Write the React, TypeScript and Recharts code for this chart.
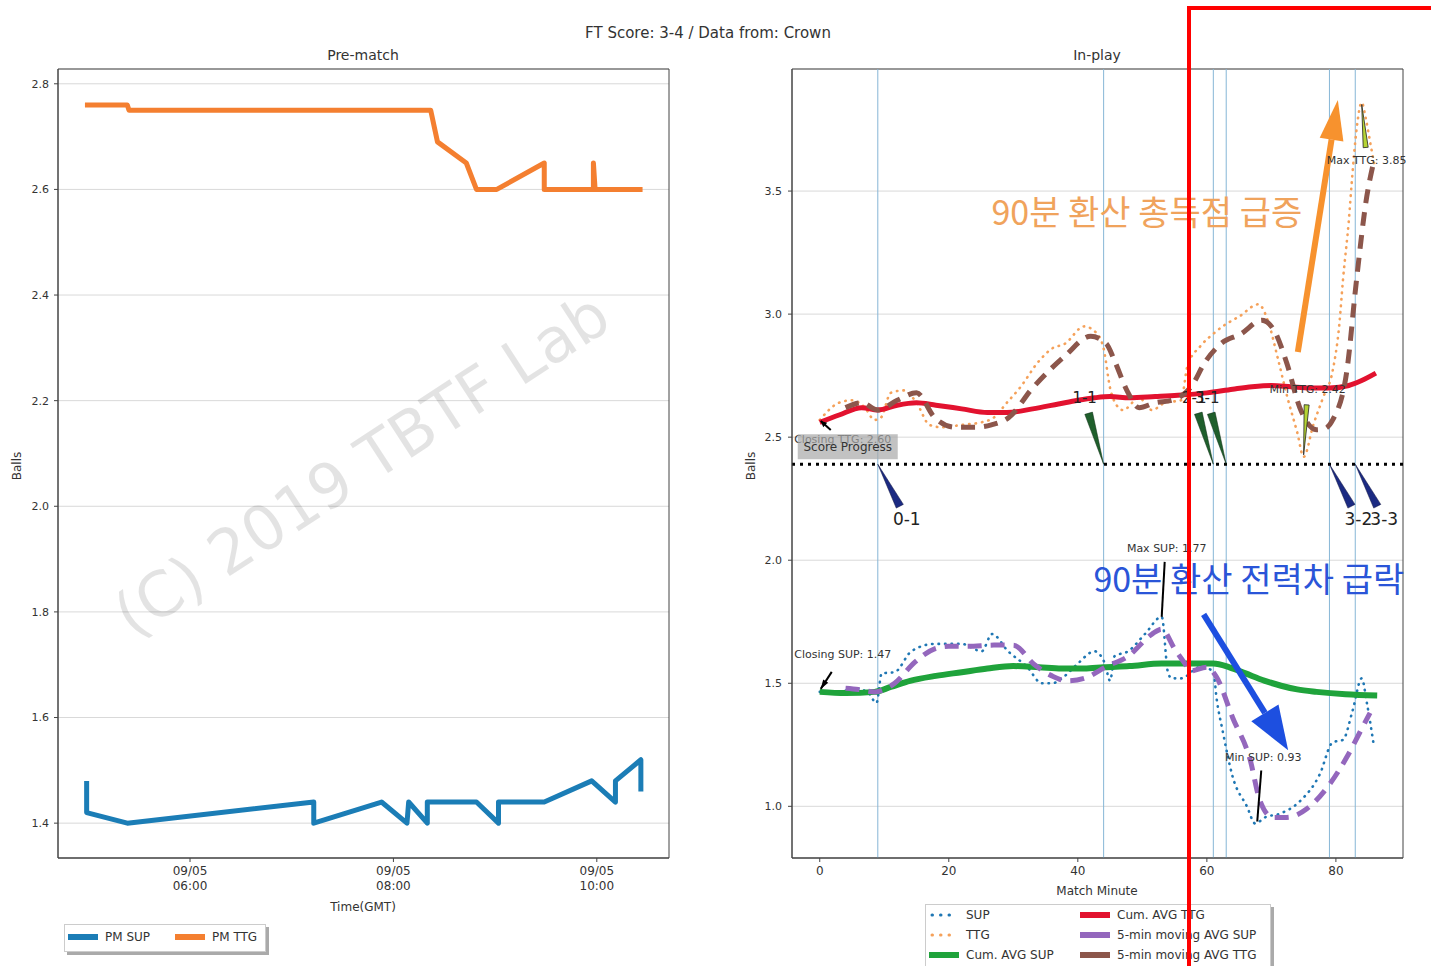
import React from 'react';
import { LineChart, Line, XAxis, YAxis, CartesianGrid, ReferenceLine, ReferenceDot, ReferenceArea } from 'recharts';

const FONT = '"DejaVu Sans", Verdana, sans-serif';
const KFONT = '"Noto Sans CJK KR", "Noto Sans CJK SC", sans-serif';
const TXT = '#333';

// ---------------- Pre-match data ----------------
const pmDate = '09/05';
const pmTimeTicks = ['06:00', '08:00', '10:00'];
const pmYTicks = [1.4, 1.6, 1.8, 2.0, 2.2, 2.4, 2.6, 2.8];
const pmSupTimes = ['04:59', '04:59', '05:23', '07:13', '07:13', '07:53', '08:08', '08:09', '08:20', '08:20', '08:49', '09:02', '09:02', '09:29', '09:57', '10:11', '10:11', '10:26', '10:26'];
const pmSupValues = [1.48, 1.42, 1.40, 1.44, 1.40, 1.44, 1.40, 1.44, 1.40, 1.44, 1.44, 1.40, 1.44, 1.44, 1.48, 1.44, 1.48, 1.52, 1.46];
const pmTtgTimes = ['04:58', '05:23', '05:24', '08:22', '08:26', '08:43', '08:49', '09:01', '09:29', '09:29', '09:58', '09:58', '09:59', '10:27'];
const pmTtgValues = [2.76, 2.76, 2.75, 2.75, 2.69, 2.65, 2.60, 2.60, 2.65, 2.60, 2.60, 2.65, 2.60, 2.60];

// ---------------- In-play data ----------------
const ipXTicks = [0, 20, 40, 60, 80];
const ipYTicks = [1.0, 1.5, 2.0, 2.5, 3.0, 3.5];

const supMinutes = [0, 2, 4, 5, 7.4, 8.8, 9.6, 11.6, 14.2, 17.8, 22, 25.1, 26.7, 29.2, 32.2, 34.4, 36, 38, 40, 42.6, 44.2, 45, 45.7, 47.8, 50.4, 53, 54, 54.6, 56, 58.9, 61, 61.5, 62.5, 64, 66.2, 67.5, 69, 71.3, 74.4, 77.5, 79.5, 81.1, 82.6, 84, 84.8, 85.8];
const supValues = [1.465, 1.46, 1.47, 1.48, 1.465, 1.42, 1.54, 1.545, 1.63, 1.66, 1.66, 1.63, 1.70, 1.63, 1.565, 1.50, 1.50, 1.53, 1.58, 1.63, 1.58, 1.51, 1.61, 1.63, 1.70, 1.77, 1.54, 1.52, 1.52, 1.565, 1.55, 1.44, 1.30, 1.12, 1.00, 0.93, 0.955, 0.97, 1.02, 1.13, 1.26, 1.27, 1.39, 1.52, 1.42, 1.26];

const ttgMinutes = [0, 3, 5, 7, 8.5, 9.5, 11, 13, 15, 17, 19, 22, 25, 27, 29, 31, 34, 36, 38, 41, 43, 44, 45, 46, 47, 49.5, 51.5, 53.5, 56, 57, 59, 61, 63, 65, 68, 69.5, 71, 72.5, 74, 75, 76.5, 78, 79.5, 80.5, 81.1, 82, 82.5, 83.2, 84, 84.6, 85.3, 86];
const ttgValues = [2.57, 2.64, 2.65, 2.62, 2.57, 2.58, 2.68, 2.69, 2.64, 2.55, 2.54, 2.55, 2.56, 2.58, 2.64, 2.70, 2.81, 2.86, 2.88, 2.95, 2.92, 2.86, 2.70, 2.63, 2.61, 2.66, 2.61, 2.64, 2.65, 2.79, 2.87, 2.92, 2.96, 2.99, 3.04, 2.97, 2.82, 2.66, 2.52, 2.42, 2.55, 2.66, 2.77, 2.95, 3.14, 3.38, 3.55, 3.75, 3.86, 3.80, 3.70, 3.60];

const cumSupMinutes = [0, 4, 8.5, 11, 14, 18, 22, 26, 30, 34, 37.5, 41, 44, 48, 53, 56, 61, 63.5, 66, 69, 71.5, 74, 77, 81.5, 86.4];
const cumSupValues = [1.465, 1.46, 1.465, 1.485, 1.51, 1.53, 1.545, 1.56, 1.57, 1.565, 1.56, 1.56, 1.565, 1.57, 1.58, 1.58, 1.58, 1.565, 1.54, 1.51, 1.49, 1.475, 1.465, 1.455, 1.45];

const cumTtgMinutes = [0, 3, 6.5, 9, 12, 15, 18, 22, 26, 29, 33, 37, 40, 42.6, 45, 48, 52, 55.5, 60, 64, 67, 70, 73, 76, 79, 82, 84, 86.2];
const cumTtgValues = [2.56, 2.59, 2.62, 2.61, 2.63, 2.64, 2.63, 2.615, 2.60, 2.60, 2.615, 2.635, 2.65, 2.66, 2.665, 2.66, 2.665, 2.67, 2.68, 2.695, 2.705, 2.71, 2.705, 2.70, 2.70, 2.71, 2.73, 2.76];

const maSupMinutes = [4, 6, 8.5, 11.6, 14.7, 17.8, 20, 23, 27, 30, 33.3, 36, 38.4, 41, 44.6, 47.8, 51.5, 53, 55, 56.6, 57.4, 60, 61.5, 64, 66.7, 68.2, 70.2, 72.4, 75.5, 78.6, 81.7, 83.7, 85.3];
const maSupValues = [1.48, 1.475, 1.465, 1.50, 1.585, 1.64, 1.65, 1.65, 1.655, 1.655, 1.575, 1.53, 1.51, 1.52, 1.57, 1.61, 1.70, 1.72, 1.64, 1.58, 1.55, 1.565, 1.525, 1.36, 1.19, 1.025, 0.955, 0.955, 0.99, 1.075, 1.20, 1.30, 1.38];

const maTtgMinutes = [4, 6.5, 9, 12, 15, 17.8, 21, 24, 26.6, 29.3, 33, 38, 42, 44.4, 45.7, 47.6, 49.5, 52, 54.6, 57.7, 59.6, 62.2, 65.3, 68.5, 70.4, 72.4, 74.4, 77, 78.3, 79.5, 81.7, 83.2, 84.8, 85.7];
const maTtgValues = [2.62, 2.64, 2.61, 2.65, 2.68, 2.58, 2.54, 2.54, 2.55, 2.58, 2.70, 2.83, 2.91, 2.88, 2.81, 2.69, 2.62, 2.64, 2.65, 2.71, 2.80, 2.88, 2.92, 2.975, 2.935, 2.80, 2.62, 2.53, 2.535, 2.57, 2.77, 3.14, 3.48, 3.60];

const goalMinutes = [9, 44, 61, 63, 79, 83];
const goalScores = ['0-1', '1-1', '2-1', '3-1', '3-2', '3-3'];
const scoreLevel = 2.39;

const statLabels = ['Closing TTG: 2.60', 'Closing SUP: 1.47', 'Max SUP: 1.77', 'Min SUP: 0.93', 'Min TTG: 2.42', 'Max TTG: 3.85'];
const statMinutes = [0, 0, 53, 67.5, 75, 84];
const statValues = [2.57, 1.465, 1.77, 0.93, 2.42, 3.86];

const calloutTexts = ['90분 환산 총득점 급증', '90분 환산 전력차 급락'];
const calloutMinutes = [50.7, 66.5];
const calloutValues = [3.423, 1.931];
const arrowFromMinutes = [74.1, 59.5];
const arrowFromValues = [2.846, 1.78];
const arrowToMinutes = [80.3, 72.6];
const arrowToValues = [3.87, 1.228];

// ---------------- helpers ----------------
const toMin = (s: string) => {
  const [h, m] = s.split(':').map(Number);
  return h * 60 + m;
};
const fmtHM = (v: number) => `${String(Math.floor(v / 60)).padStart(2, '0')}:${String(Math.round(v % 60)).padStart(2, '0')}`;
const series = (xs: number[], ys: number[]) => xs.map((m, i) => ({ m, v: ys[i] }));

const pmSupData = pmSupTimes.map((t, i) => ({ t: toMin(t), v: pmSupValues[i] }));
const pmTtgData = pmTtgTimes.map((t, i) => ({ t: toMin(t), v: pmTtgValues[i] }));

const PM_X_DOMAIN: [number, number] = [282.1, 642.6];
const PM_Y_DOMAIN: [number, number] = [1.334, 2.828];
const IP_X_DOMAIN: [number, number] = [-4.3, 90.4];
const IP_Y_DOMAIN: [number, number] = [0.79, 3.996];

// styles
const C = {
  pmSup: '#1b7db6',
  pmTtg: '#f47f30',
  sup: '#1f77b4',
  ttg: '#f5a15a',
  cumSup: '#1fa33b',
  cumTtg: '#e2122f',
  maSup: '#9467bd',
  maTtg: '#8c564b',
  goalLine: '#86b6d6',
  home: '#1f5f2c',
  away: '#1b2a82',
  yg: '#b5d334',
  orangeText: '#f0a35c',
  blueText: '#2a55d8',
  orangeArrow: '#f7922e',
  blueArrow: '#1d4fe0',
};

// pixel offsets for annotations (like matplotlib "offset points")
const STAT_STYLE = [
  { tx: 23, ty: 20, kind: 'arrow', sx: 11, sy: 10, ex: 1, ey: 1 },
  { tx: 23, ty: -37, kind: 'arrow', sx: 12, sy: -20, ex: 1, ey: -3 },
  { tx: 5, ty: -68, kind: 'line', sx: 3, sy: -55, ex: 0, ey: 0 },
  { tx: 8, ty: -66, kind: 'line', sx: 6, sy: -53, ex: 2, ey: -2 },
  { tx: 4, ty: -67, kind: 'wedge', sx: 3, sy: -52, ex: 0, ey: -2 },
  { tx: 5, ty: 58, kind: 'wedge', sx: 4, sy: 45, ex: 0, ey: 2 },
];

const wedgePoints = (tipX: number, tipY: number, baseX: number, baseY: number, hw: number) => {
  const dx = baseX - tipX;
  const dy = baseY - tipY;
  const L = Math.hypot(dx, dy) || 1;
  const nx = (-dy / L) * hw;
  const ny = (dx / L) * hw;
  return `${tipX},${tipY} ${baseX + nx},${baseY + ny} ${baseX - nx},${baseY - ny}`;
};

const PmTick = (props: any) => {
  const { x, y, payload } = props;
  return (
    <text x={x} y={y} textAnchor="middle" fontSize={12} fill={TXT} fontFamily={FONT}>
      <tspan x={x} dy={11}>{pmDate}</tspan>
      <tspan x={x} dy={15}>{fmtHM(payload.value)}</tspan>
    </text>
  );
};

function PreMatch() {
  return (
    <LineChart width={700} height={966} margin={{ top: 69, right: 31, bottom: 48, left: 0 }}>
      <CartesianGrid vertical={false} stroke="#d9d9d9" />
      <XAxis
        dataKey="t"
        type="number"
        domain={PM_X_DOMAIN}
        allowDataOverflow
        ticks={pmTimeTicks.map(toMin)}
        interval={0}
        height={60}
        tick={<PmTick />}
        tickSize={4}
        stroke="#444"
      />
      <YAxis
        type="number"
        domain={PM_Y_DOMAIN}
        allowDataOverflow
        ticks={pmYTicks}
        interval={0}
        width={58}
        tickSize={4}
        tickMargin={5}
        tick={{ fontSize: 11, fill: TXT, fontFamily: FONT }}
        tickFormatter={(v: number) => v.toFixed(1)}
        stroke="#444"
      />
      <ReferenceArea x1={PM_X_DOMAIN[0]} x2={PM_X_DOMAIN[1]} y1={PM_Y_DOMAIN[0]} y2={PM_Y_DOMAIN[1]} fill="none" fillOpacity={0} stroke="#444" strokeWidth={1} ifOverflow="visible" />
      <Line data={pmSupData} dataKey="v" type="linear" stroke={C.pmSup} strokeWidth={5} dot={false} isAnimationActive={false} strokeLinejoin="round" />
      <Line data={pmTtgData} dataKey="v" type="linear" stroke={C.pmTtg} strokeWidth={5} dot={false} isAnimationActive={false} strokeLinejoin="round" />
    </LineChart>
  );
}

function InPlay() {
  let prevHome = 0;
  const goals = goalMinutes.map((m, i) => {
    const home = Number(goalScores[i].split('-')[0]);
    const isHome = home > prevHome;
    prevHome = home;
    return { m, score: goalScores[i], isHome };
  });

  return (
    <LineChart width={691} height={966} margin={{ top: 69, right: 28, bottom: 58, left: 0 }}>
      <CartesianGrid vertical={false} stroke="#d9d9d9" />
      <XAxis dataKey="m" type="number" domain={IP_X_DOMAIN} allowDataOverflow ticks={ipXTicks} interval={0} height={50} tickSize={4} tickMargin={4} tick={{ fontSize: 12, fill: TXT, fontFamily: FONT }} stroke="#444" />
      <YAxis type="number" domain={IP_Y_DOMAIN} allowDataOverflow ticks={ipYTicks} interval={0} width={52} tickSize={4} tickMargin={6} tick={{ fontSize: 11, fill: TXT, fontFamily: FONT }} tickFormatter={(v: number) => v.toFixed(1)} stroke="#444" />
      <ReferenceArea x1={IP_X_DOMAIN[0]} x2={IP_X_DOMAIN[1]} y1={IP_Y_DOMAIN[0]} y2={IP_Y_DOMAIN[1]} fill="none" fillOpacity={0} stroke="#444" strokeWidth={1} ifOverflow="visible" />

      {goalMinutes.map((m) => (
        <ReferenceLine key={`gl${m}`} x={m} stroke={C.goalLine} strokeWidth={1} />
      ))}
      <ReferenceLine y={scoreLevel} stroke="#000" strokeWidth={3} strokeDasharray="3 5" />

      <Line data={series(supMinutes, supValues)} dataKey="v" type="monotone" stroke={C.sup} strokeWidth={2.6} strokeDasharray="0.5 6" strokeLinecap="round" dot={false} isAnimationActive={false} />
      <Line data={series(ttgMinutes, ttgValues)} dataKey="v" type="monotone" stroke={C.ttg} strokeWidth={2.6} strokeDasharray="0.5 6" strokeLinecap="round" dot={false} isAnimationActive={false} />
      <Line data={series(cumSupMinutes, cumSupValues)} dataKey="v" type="monotone" stroke={C.cumSup} strokeWidth={6} dot={false} isAnimationActive={false} />
      <Line data={series(cumTtgMinutes, cumTtgValues)} dataKey="v" type="monotone" stroke={C.cumTtg} strokeWidth={5} dot={false} isAnimationActive={false} />
      <Line data={series(maSupMinutes, maSupValues)} dataKey="v" type="monotone" stroke={C.maSup} strokeWidth={5} strokeDasharray="14 9" dot={false} isAnimationActive={false} />
      <Line data={series(maTtgMinutes, maTtgValues)} dataKey="v" type="monotone" stroke={C.maTtg} strokeWidth={5} strokeDasharray="14 9" dot={false} isAnimationActive={false} />

      {statLabels.map((label, i) => {
        const s = STAT_STYLE[i];
        return (
          <ReferenceDot
            key={`st${i}`}
            x={statMinutes[i]}
            y={statValues[i]}
            shape={(p: any) => {
              const { cx, cy } = p;
              const x1 = cx + s.sx, y1 = cy + s.sy, x2 = cx + s.ex, y2 = cy + s.ey;
              let conn: React.ReactNode = null;
              if (s.kind === 'wedge') {
                conn = <polygon points={wedgePoints(x2, y2, x1, y1, 2.5)} fill={C.yg} stroke="#222" strokeWidth={0.8} />;
              } else if (s.kind === 'arrow') {
                conn = (
                  <g>
                    <line x1={x1} y1={y1} x2={x2} y2={y2} stroke="#000" strokeWidth={2} />
                    <polygon points={wedgePoints(x2, y2, x2 + (x1 - x2) * 0.45, y2 + (y1 - y2) * 0.45, 3)} fill="#000" />
                  </g>
                );
              } else {
                conn = <line x1={x1} y1={y1} x2={x2} y2={y2} stroke="#000" strokeWidth={2} />;
              }
              return (
                <g>
                  {conn}
                  <text x={cx + s.tx} y={cy + s.ty} textAnchor="middle" dominantBaseline="central" fontSize={11} fill={TXT} fontFamily={FONT}>
                    {label}
                  </text>
                </g>
              );
            }}
          />
        );
      })}

      {goals.map((g) => (
        <ReferenceDot
          key={`gw${g.m}`}
          x={g.m}
          y={scoreLevel}
          shape={(p: any) => {
            const { cx, cy } = p;
            if (g.isHome) {
              return (
                <g>
                  <polygon points={wedgePoints(cx, cy, cx - 15, cy - 51, 4)} fill={C.home} stroke="#0d2a12" strokeWidth={0.5} />
                  <text x={cx - 19} y={cy - 66} textAnchor="middle" dominantBaseline="central" fontSize={15} fill="#222" fontFamily={FONT}>
                    {g.score}
                  </text>
                </g>
              );
            }
            return (
              <g>
                <polygon points={wedgePoints(cx, cy, cx + 22, cy + 42, 4)} fill={C.away} stroke="#0b0f3a" strokeWidth={0.5} />
                <text x={cx + 29} y={cy + 55} textAnchor="middle" dominantBaseline="central" fontSize={17} fill="#222" fontFamily={FONT}>
                  {g.score}
                </text>
              </g>
            );
          }}
        />
      ))}

      <ReferenceDot
        x={0}
        y={scoreLevel}
        shape={(p: any) => (
          <g>
            <rect x={p.cx - 22} y={p.cy - 30} width={100} height={25} fill="#a8a8a8" fillOpacity={0.7} />
            <text x={p.cx + 28} y={p.cy - 17} textAnchor="middle" dominantBaseline="central" fontSize={12} fill="#333" fontFamily={FONT}>
              Score Progress
            </text>
          </g>
        )}
      />

      {calloutTexts.map((t, i) => (
        <ReferenceLine
          key={`ar${i}`}
          segment={[
            { x: arrowFromMinutes[i], y: arrowFromValues[i] },
            { x: arrowToMinutes[i], y: arrowToValues[i] },
          ]}
          shape={(p: any) => {
            const { x1, y1, x2, y2 } = p;
            const col = i === 0 ? C.orangeArrow : C.blueArrow;
            const head = i === 0 ? 40 : 44;
            const hw = i === 0 ? 12 : 16;
            const dx = x2 - x1, dy = y2 - y1;
            const L = Math.hypot(dx, dy) || 1;
            const bx = x2 - (dx / L) * head, by = y2 - (dy / L) * head;
            return (
              <g>
                <line x1={x1} y1={y1} x2={bx} y2={by} stroke={col} strokeWidth={6} />
                <polygon points={wedgePoints(x2, y2, bx, by, hw)} fill={col} />
              </g>
            );
          }}
        />
      ))}

      {calloutTexts.map((t, i) => (
        <ReferenceDot
          key={`co${i}`}
          x={calloutMinutes[i]}
          y={calloutValues[i]}
          shape={(p: any) => (
            <text x={p.cx} y={p.cy} textAnchor="middle" dominantBaseline="central" fontSize={34} fill={i === 0 ? C.orangeText : C.blueText} fontFamily={KFONT}>
              {t}
            </text>
          )}
        />
      ))}
    </LineChart>
  );
}

const abs = (left: number, top: number, extra: React.CSSProperties = {}): React.CSSProperties => ({
  position: 'absolute',
  left,
  top,
  ...extra,
});

const centered = (x: number, y: number, fontSize: number, text: string, rotate = 0) => (
  <div
    style={abs(x, y, {
      transform: `translate(-50%, -50%) rotate(${rotate}deg)`,
      fontSize,
      color: TXT,
      whiteSpace: 'nowrap',
      lineHeight: 1,
    })}
  >
    {text}
  </div>
);

const Handle = ({ color, dotted, width = 30 }: { color: string; dotted?: boolean; width?: number }) => (
  <svg width={width} height={10} style={{ display: 'block' }}>
    {dotted ? (
      <line x1={3} y1={5} x2={width - 3} y2={5} stroke={color} strokeWidth={3} strokeDasharray="0.5 8" strokeLinecap="round" />
    ) : (
      <line x1={0} y1={5} x2={width} y2={5} stroke={color} strokeWidth={6} />
    )}
  </svg>
);

const LegendItem = ({ x, y, color, dotted, label }: any) => (
  <div style={abs(x, y, { display: 'flex', alignItems: 'center', transform: 'translateY(-50%)', fontSize: 12, color: TXT, whiteSpace: 'nowrap' })}>
    <Handle color={color} dotted={dotted} />
    <span style={{ marginLeft: 7 }}>{label}</span>
  </div>
);

export default function App() {
  return (
    <div style={{ position: 'absolute', left: 0, top: 0, width: 1431, height: 966, overflow: 'hidden', background: '#fff', fontFamily: FONT }}>
      <div style={abs(0, 0)}>
        <PreMatch />
      </div>
      <div style={abs(740, 0)}>
        <InPlay />
      </div>

      {/* watermark */}
      <div
        style={abs(362, 465, {
          transform: 'translate(-50%, -50%) rotate(-33deg)',
          fontSize: 62,
          color: 'rgba(0,0,0,0.11)',
          whiteSpace: 'nowrap',
          pointerEvents: 'none',
          lineHeight: 1,
        })}
      >
        (C) 2019 TBTF Lab
      </div>

      {centered(708, 33, 15, 'FT Score: 3-4 / Data from: Crown')}
      {centered(363, 55, 14, 'Pre-match')}
      {centered(1097, 55, 14, 'In-play')}
      {centered(363, 907, 12, 'Time(GMT)')}
      {centered(1097, 891, 12, 'Match Minute')}
      {centered(17, 466, 12, 'Balls', -90)}
      {centered(751, 466, 12, 'Balls', -90)}

      {/* pre-match legend */}
      <div style={abs(64, 924, { width: 200, height: 26, border: '1px solid #ccc', background: '#fff', boxShadow: '3px 3px 0 #aaa' })} />
      <LegendItem x={68} y={937} color={C.pmSup} label="PM SUP" />
      <LegendItem x={175} y={937} color={C.pmTtg} label="PM TTG" />

      {/* in-play legend */}
      <div style={abs(925, 904, { width: 344, height: 70, border: '1px solid #ccc', background: '#fff', boxShadow: '3px 3px 0 #aaa' })} />
      <LegendItem x={929} y={915} color={C.sup} dotted label="SUP" />
      <LegendItem x={929} y={935} color={C.ttg} dotted label="TTG" />
      <LegendItem x={929} y={955} color={C.cumSup} label="Cum. AVG SUP" />
      <LegendItem x={1080} y={915} color={C.cumTtg} label="Cum. AVG TTG" />
      <LegendItem x={1080} y={935} color={C.maSup} label="5-min moving AVG SUP" />
      <LegendItem x={1080} y={955} color={C.maTtg} label="5-min moving AVG TTG" />

      {/* red highlight frame */}
      <div style={abs(1187, 6, { width: 260, height: 980, borderTop: '4px solid #ff0000', borderLeft: '4px solid #ff0000', pointerEvents: 'none' })} />
    </div>
  );
}
